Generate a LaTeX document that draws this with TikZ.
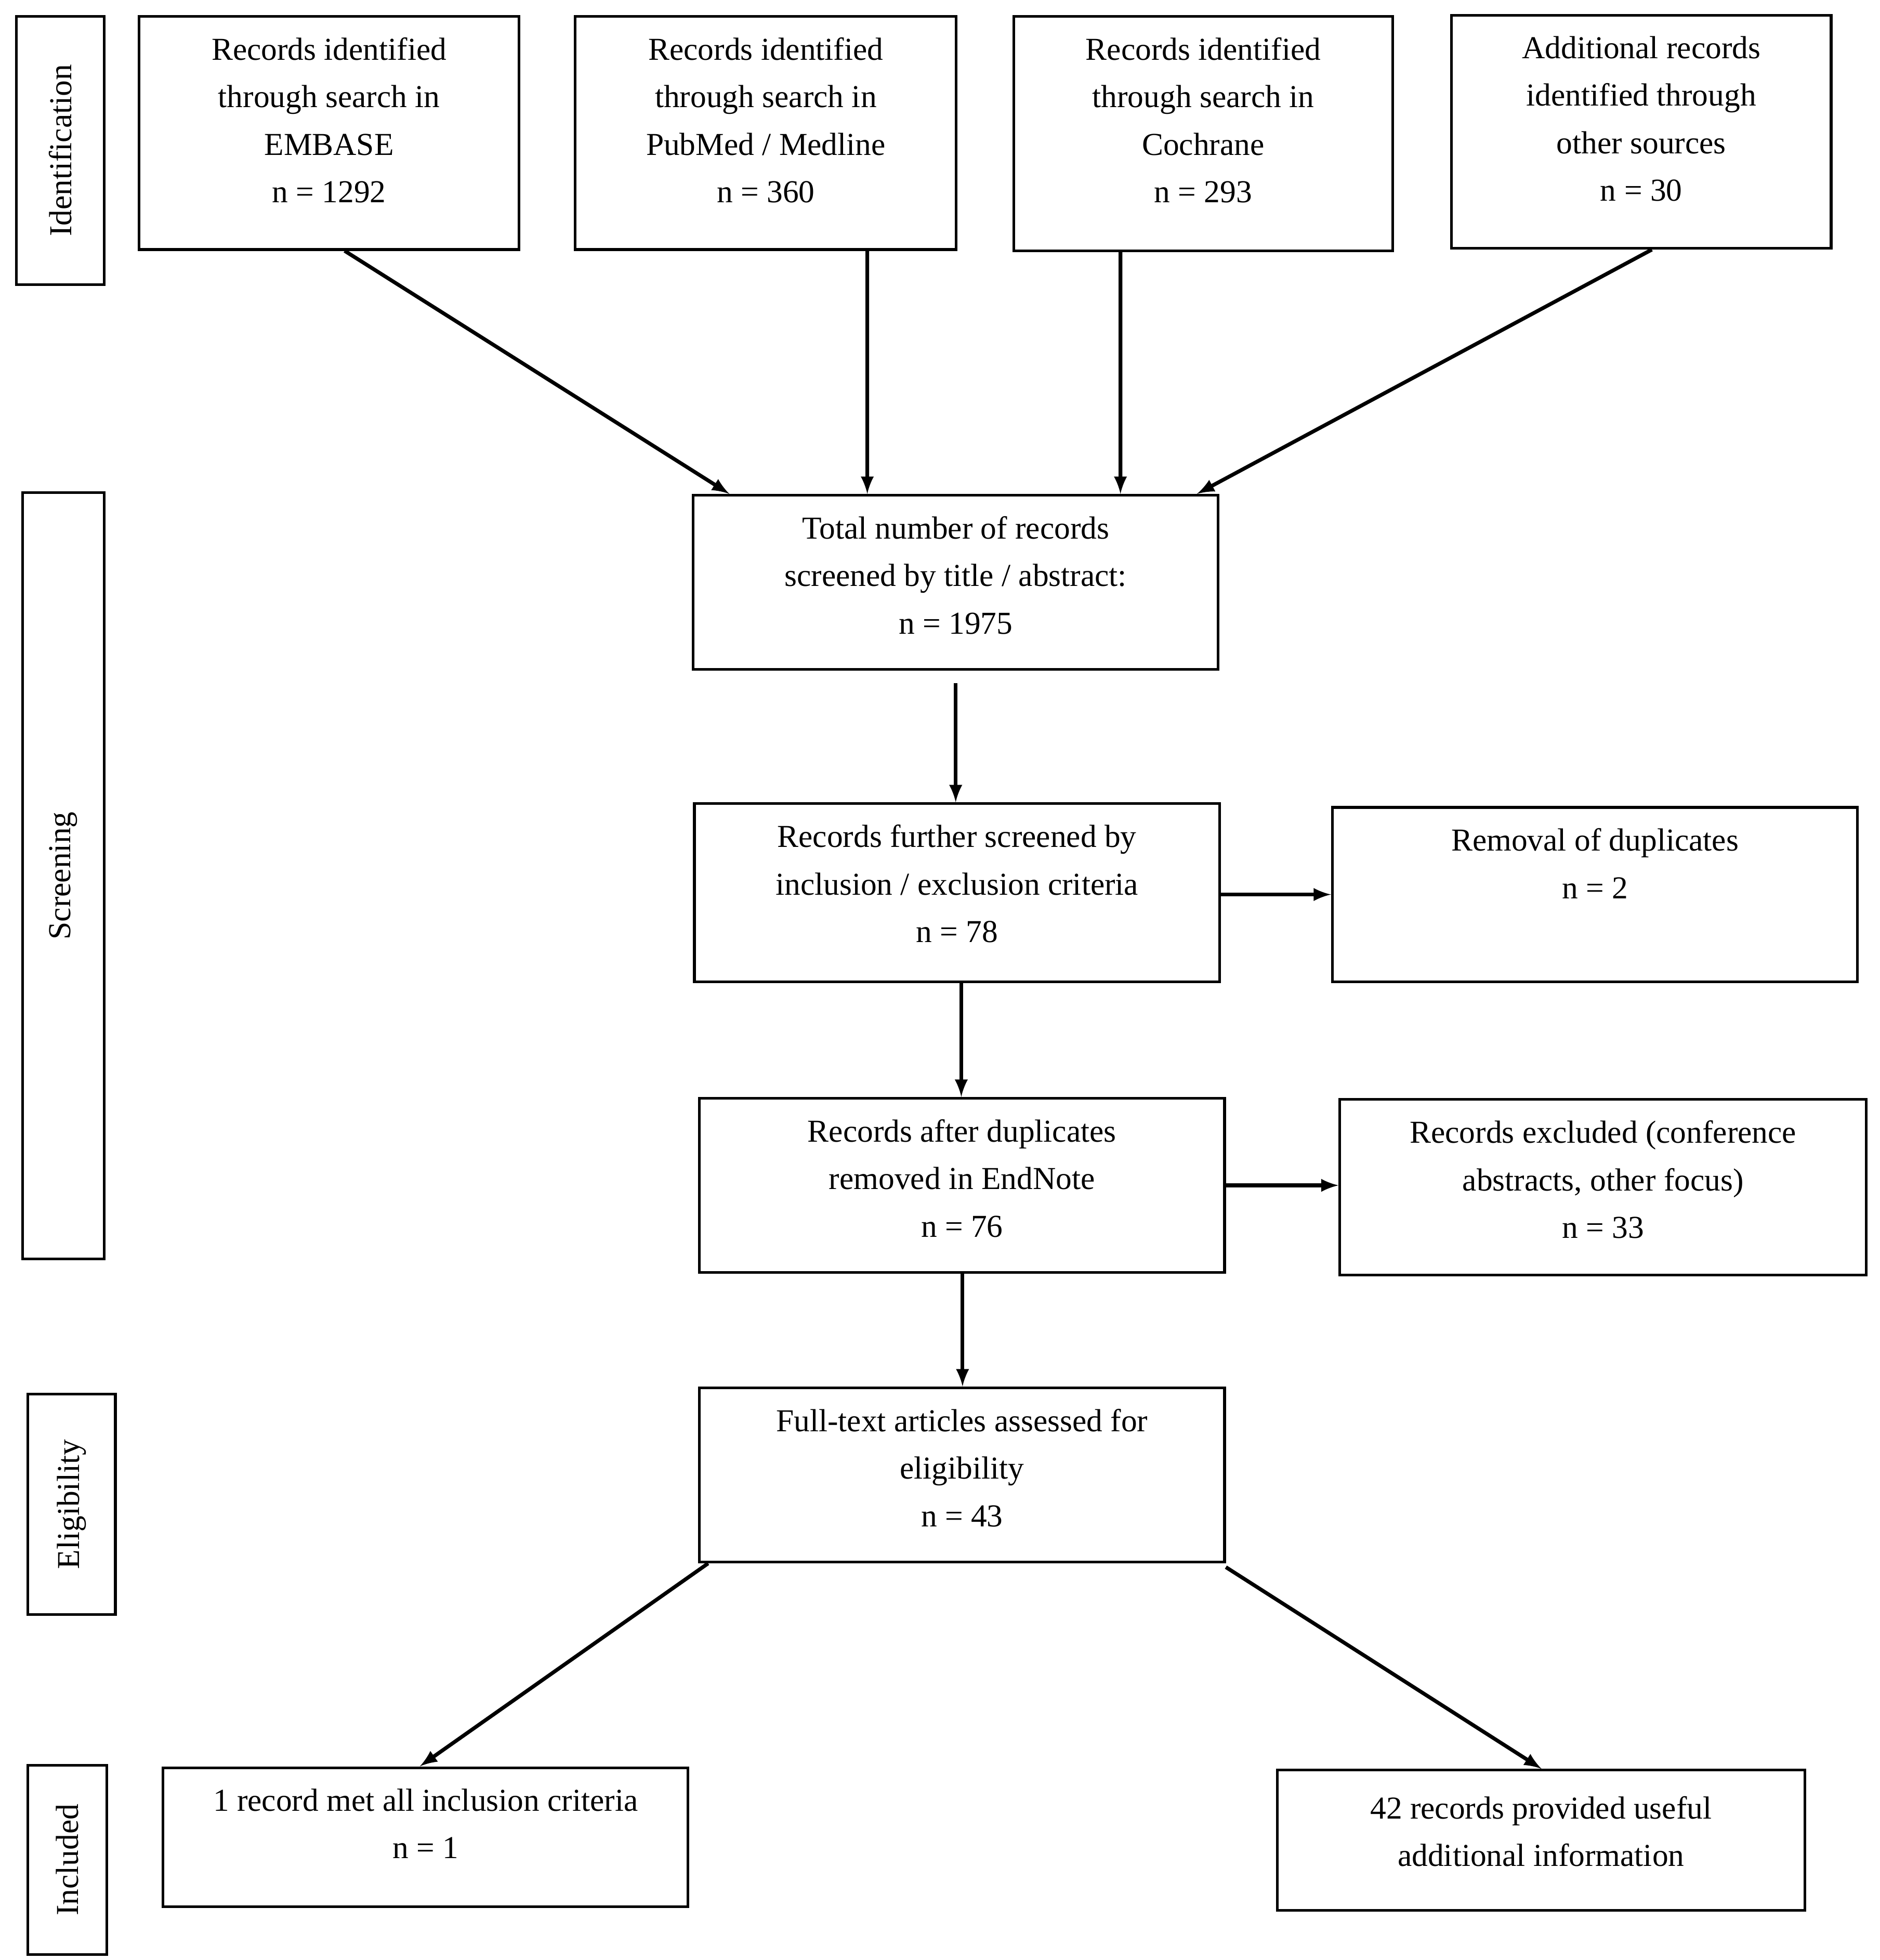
\documentclass[tikz,border=0pt]{standalone}
\usepackage{fontspec}
\setmainfont{Liberation Serif}
\usetikzlibrary{arrows}
\tikzset{
  >=latex,
  box/.style = {draw, line width=1.2pt, anchor=north west, inner sep=0},
  txt/.style = {align=center, anchor=north, inner sep=1.5mm, yshift=-0.2cm,
                font=\fontsize{14.5pt}{21.6pt}\selectfont},
  side/.style = {draw, line width=1.2pt, anchor=north west, inner sep=0},
  flow/.style = {line width=1.7pt, ->},
}
\newcommand{\sidetext}[1]{\rotatebox{90}{\fontsize{14.5pt}{18pt}\selectfont #1}}
\begin{document}
\begin{tikzpicture}
\useasboundingbox (0,0) rectangle (30,-31.27);
% phase labels
\node[side, minimum width=1.4cm, minimum height=4.28cm] (id) at (0.24,-0.24) {\sidetext{Identification}};
\node[side, minimum width=1.3cm, minimum height=12.22cm] (sc) at (0.34,-7.84) {\sidetext{Screening}};
\node[side, minimum width=1.4cm, minimum height=3.52cm] (el) at (0.42,-22.22) {\sidetext{Eligibility}};
\node[side, minimum width=1.26cm, minimum height=3.02cm] (in) at (0.42,-28.14) {\sidetext{Included}};
% sources
\node[box, minimum width=6.06cm, minimum height=3.72cm,
  label={[txt]north:Records identified\\through search in\\EMBASE\\n = 1292}] (emb) at (2.2,-0.24) {};
\node[box, minimum width=6.08cm, minimum height=3.72cm,
  label={[txt]north:Records identified\\through search in\\PubMed / Medline\\n = 360}] (pub) at (9.16,-0.24) {};
\node[box, minimum width=6.04cm, minimum height=3.74cm,
  label={[txt]north:Records identified\\through search in\\Cochrane\\n = 293}] (coc) at (16.16,-0.24) {};
\node[box, minimum width=6.06cm, minimum height=3.72cm,
  label={[txt]north:Additional records\\identified through\\other sources\\n = 30}] (add) at (23.14,-0.22) {};
% screening
\node[box, minimum width=8.38cm, minimum height=2.78cm,
  label={[txt]north:Total number of records\\screened by title / abstract:\\n = 1975}] (tot) at (11.04,-7.88) {};
\node[box, minimum width=8.38cm, minimum height=2.84cm,
  label={[txt]north:Records further screened by\\inclusion / exclusion criteria\\n = 78}] (fur) at (11.06,-12.8) {};
\node[box, minimum width=8.38cm, minimum height=2.78cm,
  label={[txt]north:Removal of duplicates\\n = 2}] (dup) at (21.24,-12.86) {};
\node[box, minimum width=8.38cm, minimum height=2.78cm,
  label={[txt]north:Records after duplicates\\removed in EndNote\\n = 76}] (aft) at (11.14,-17.5) {};
\node[box, minimum width=8.4cm, minimum height=2.8cm,
  label={[txt]north:Records excluded (conference\\abstracts, other focus)\\n = 33}] (exc) at (21.36,-17.52) {};
% eligibility
\node[box, minimum width=8.38cm, minimum height=2.78cm,
  label={[txt]north:Full-text articles assessed for\\eligibility\\n = 43}] (ful) at (11.14,-22.12) {};
% included
\node[box, minimum width=8.38cm, minimum height=2.22cm,
  label={[txt]north:1 record met all inclusion criteria\\n = 1}] (one) at (2.58,-28.18) {};
\node[box, minimum width=8.42cm, minimum height=2.24cm,
  label={[txt, yshift=-0.08cm]north:42 records provided useful\\additional information}] (fty) at (20.36,-28.22) {};
% connectors
\draw[flow] ([xshift=3.3cm]emb.south west) -- ([xshift=0.6cm]tot.north west);
\draw[flow] ([xshift=4.68cm]pub.south west) -- ([xshift=2.8cm]tot.north west);
\draw[flow] ([xshift=1.72cm]coc.south west) -- ([xshift=6.84cm]tot.north west);
\draw[flow] ([xshift=3.22cm]add.south west) -- ([xshift=8.06cm]tot.north west);
\draw[flow] ([yshift=-0.2cm]tot.south) -- (tot.south |- fur.north);
\draw[flow] ([xshift=4.2cm]aft.north west |- fur.south) -- ([xshift=4.2cm]aft.north west);
\draw[flow] (fur.east |- dup.west) -- (dup.west);
\draw[flow] (aft.east) -- (aft.east -| exc.west);
\draw[flow] ([xshift=4.22cm]aft.south west) -- ([xshift=4.22cm]ful.north west);
\draw[flow] ([xshift=0.16cm]ful.south west) -- ([xshift=4.12cm]one.north west);
\draw[flow] ([yshift=-0.06cm]ful.south east) -- ([xshift=4.24cm]fty.north west);
\end{tikzpicture}
\end{document}
